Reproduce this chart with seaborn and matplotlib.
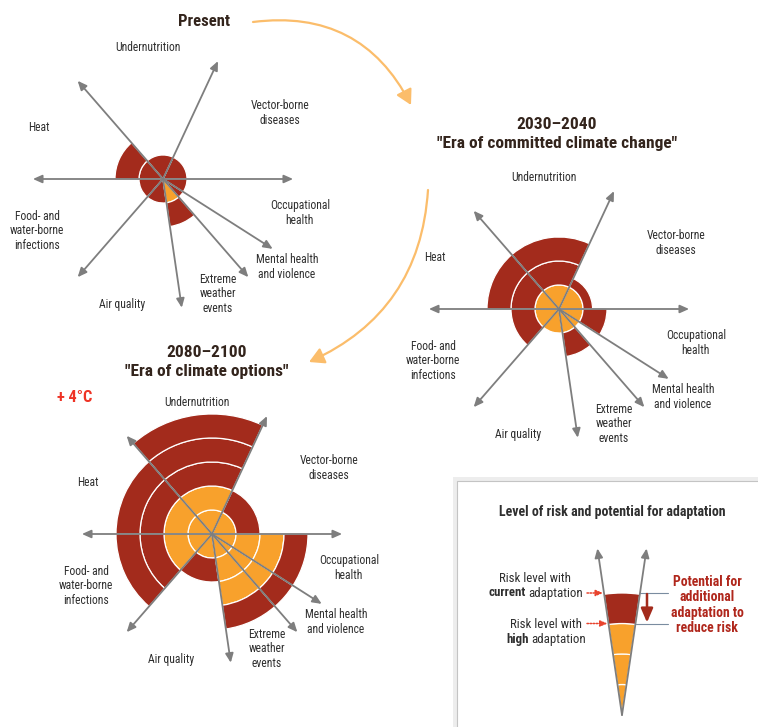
import numpy as np
import matplotlib
matplotlib.use('Agg')
import matplotlib.pyplot as plt
from matplotlib import font_manager
from matplotlib.patches import FancyArrowPatch, Rectangle
import seaborn as sns

# ray directions of the wheel, degrees counter-clockwise from east
ray_angles = [0, 65, 131, 180, 229, 278.3, 311, 327.5]
sectors = ['Vector-borne\ndiseases', 'Undernutrition', 'Heat',
           'Food- and\nwater-borne\ninfections', 'Air quality',
           'Extreme\nweather\nevents', 'Mental health\nand violence',
           'Occupational\nhealth']

# risk level in rings: with current adaptation / with high adaptation
present_current = [1, 1, 2, 1, 1, 2, 1, 1]
present_high = [0, 0, 0, 0, 0, 1, 0, 0]
near_current = [1.4, 3, 3, 2, 1, 2, 1, 2]
near_high = [1, 1, 1, 1, 1, 1, 1, 1]
late_current = [2, 5, 4, 4, 2, 4, 4, 4]
late_high = [1, 2, 2, 2, 1, 3, 3, 3]

# legend cone
legend_rays = [81.6, 98.4]
legend_current = [4]
legend_high = [3]

# label placement around each wheel (theta deg, radius in rings)
label_theta = [29.4, 96.5, 157.6, 202.4, 252, 295.4, 324.6, 346]
label_r = [5.6, 5.53, 5.58, 5.68, 5.52, 5.3, 6.34, 5.88]

W, H = 758, 727
UNIT = 24
RMAX = 5.6
RAY_LEN = 5.42

RED, ORANGE = sns.color_palette(['#a32b1c', '#f8a12c'])
GREY = '#7e7e7e'
TEXT = '#2f2f2f'
TITLE = '#33241c'
ARC = '#fbbd6b'

sns.set_theme(style='white')
names = {f.name for f in font_manager.fontManager.ttflist}
FONT = next((n for n in ['Liberation Sans Narrow', 'Roboto Condensed', 'Roboto']
             if n in names), 'DejaVu Sans')
plt.rcParams['font.family'] = [FONT, 'DejaVu Sans']

fig = plt.figure(figsize=(W / 100, H / 100), dpi=100)
bg = fig.add_axes([0, 0, 1, 1])
bg.set_xlim(0, W)
bg.set_ylim(H, 0)
bg.axis('off')


def polar_axes(cx, cy, unit, rmax=RMAX):
    R = unit * rmax
    ax = fig.add_axes([(cx - R) / W, (H - cy - R) / H, 2 * R / W, 2 * R / H],
                      projection='polar')
    ax.set_ylim(0, rmax)
    ax.set_axis_off()
    return ax


def draw_wedges(ax, starts, ends, current, high):
    for a0, a1, cur, hi in zip(starts, ends, current, high):
        k = 0
        while k < cur:
            top = min(k + 1, cur)
            color = ORANGE if k < hi else RED
            ax.bar(np.deg2rad((a0 + a1) / 2), top - k, width=np.deg2rad(a1 - a0),
                   bottom=k, color=color, edgecolor='white', linewidth=0.9, zorder=1)
            k = top


def draw_rays(ax, angles, length):
    for a in angles:
        ax.annotate('', xy=(np.deg2rad(a), length), xytext=(0, 0),
                    arrowprops=dict(arrowstyle='-|>,head_length=0.45,head_width=0.2',
                                    color=GREY, lw=1.3, shrinkA=0, shrinkB=0),
                    zorder=3, annotation_clip=False)


def draw_wheel(cx, cy, current, high):
    ax = polar_axes(cx, cy, UNIT)
    ends = ray_angles[1:] + [360]
    draw_wedges(ax, ray_angles, ends, current, high)
    draw_rays(ax, ray_angles, RAY_LEN)
    for th, r, lab in zip(label_theta, label_r, sectors):
        ax.text(np.deg2rad(th), r, lab, ha='center', va='center', fontsize=8.4,
                color=TEXT, linespacing=1.17)
    return ax


draw_wheel(163, 179, present_current, present_high)
draw_wheel(559, 309, near_current, near_high)
draw_wheel(212, 534, late_current, late_high)

# titles
bg.text(204, 21, 'Present', ha='center', va='center', fontsize=12,
        fontweight='bold', color=TITLE)
bg.text(557, 134, '2030\u20132040\n"Era of committed climate change"', ha='center',
        va='center', fontsize=12.5, fontweight='bold', color=TITLE, linespacing=1.28)
bg.text(207, 362, '2080\u20132100\n"Era of climate options"', ha='center',
        va='center', fontsize=12.5, fontweight='bold', color=TITLE, linespacing=1.28)
bg.text(75, 397, '+ 4\u00b0C', ha='center', va='center', fontsize=11.8,
        fontweight='bold', color='#ee3325')

# curved arrows between the eras
for p0, p1, rad in [((253, 22), (411, 105), -0.35), ((428, 190), (309, 362), -0.3)]:
    bg.add_patch(FancyArrowPatch(p0, p1, connectionstyle=f'arc3,rad={rad}',
                                 arrowstyle='-|>,head_length=9,head_width=5',
                                 color=ARC, lw=1.6, shrinkA=0, shrinkB=0))

# legend box
bg.add_patch(Rectangle((453, 477), 330, 270, facecolor='#ededed', edgecolor='none'))
bg.add_patch(Rectangle((457, 481), 330, 270, facecolor='white', edgecolor='#c4c4c4', lw=0.8))
bg.text(612, 512, 'Level of risk and potential for adaptation', ha='center',
        va='center', fontsize=10, fontweight='bold', color=TEXT)

LEG_X, LEG_Y, LEG_UNIT = 622, 715, 30.5
lax = polar_axes(LEG_X, LEG_Y, LEG_UNIT)
draw_wedges(lax, [legend_rays[0]], [legend_rays[1]], legend_current, legend_high)
draw_rays(lax, legend_rays, 5.52)

y_cur = LEG_Y - legend_current[0] * LEG_UNIT
y_high = LEG_Y - legend_high[0] * LEG_UNIT
half = np.tan(np.deg2rad((legend_rays[1] - legend_rays[0]) / 2))
for y in (y_cur, y_high):
    edge = LEG_X + (LEG_Y - y) * half
    bg.plot([edge, 668], [y, y], color='#7a8ca0', lw=0.8)
    bg.annotate('', xy=(LEG_X - (LEG_Y - y) * half - 1, y), xytext=(587, y),
                arrowprops=dict(arrowstyle='-|>,head_length=0.35,head_width=0.15',
                                color='#e8432d', lw=1.1, linestyle=(0, (1, 1)),
                                shrinkA=0, shrinkB=0))
bg.annotate('', xy=(647, y_high - 1), xytext=(647, y_cur + 1),
            arrowprops=dict(arrowstyle='-|>,head_length=0.7,head_width=0.3',
                            color=RED, lw=1.8, shrinkA=0, shrinkB=0))

bg.text(535, 578, 'Risk level with', ha='center', va='center', fontsize=9.3, color=TEXT)
bg.text(526, 593, 'current', ha='right', va='center', fontsize=9.3, fontweight='bold', color=TEXT)
bg.text(528, 593, 'adaptation', ha='left', va='center', fontsize=9.3, color=TEXT)
bg.text(546, 624, 'Risk level with', ha='center', va='center', fontsize=9.3, color=TEXT)
bg.text(529, 639, 'high', ha='right', va='center', fontsize=9.3, fontweight='bold', color=TEXT)
bg.text(531, 639, 'adaptation', ha='left', va='center', fontsize=9.3, color=TEXT)
bg.text(707, 605, 'Potential for\nadditional\nadaptation to\nreduce risk', ha='center',
        va='center', fontsize=9.9, fontweight='bold', color='#b0271c', linespacing=1.1)

fig.savefig('out.png', dpi=100)
plt.close(fig)
